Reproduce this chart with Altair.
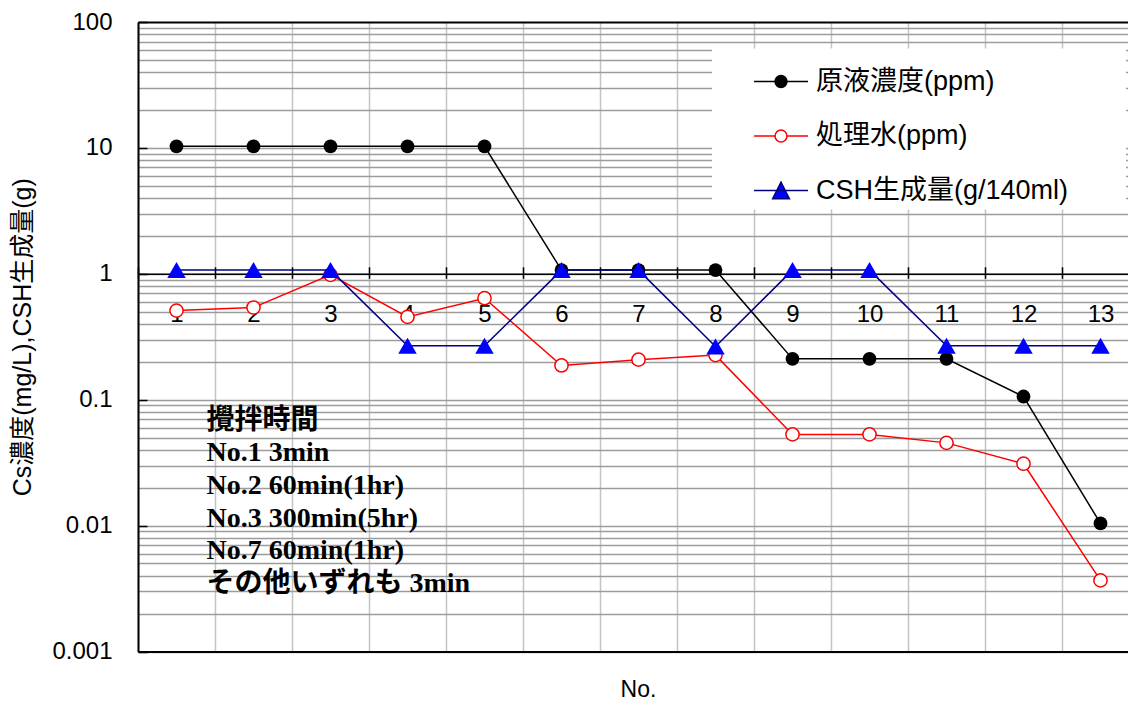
import altair as alt
import pandas as pd

# ---- data ----
nos = [str(i) for i in range(1, 14)]
series_names = ["原液濃度(ppm)", "処理水(ppm)", "CSH生成量(g/140ml)"]
raw_conc = [10.3, 10.3, 10.3, 10.3, 10.3, 1.07, 1.07, 1.07, 0.211, 0.211, 0.211, 0.106, 0.0104]
treated = [0.51, 0.54, 0.98, 0.455, 0.64, 0.187, 0.208, 0.226, 0.053, 0.053, 0.0454, 0.031, 0.00367]
csh = [1.07, 1.07, 1.07, 0.268, 0.268, 1.07, 1.07, 0.265, 1.07, 1.07, 0.268, 0.268, 0.268]
y_ticks = [m * 10.0 ** e for e in range(-3, 2) for m in range(1, 10)] + [100.0]
y_decades = [0.001, 0.01, 0.1, 1.0, 10.0, 100.0]
note_lines = ["攪拌時間", "No.1 3min", "No.2 60min(1hr)", "No.3 300min(5hr)",
              "No.7 60min(1hr)", "その他いずれも 3min"]

rows = []
for name, vals in zip(series_names, [raw_conc, treated, csh]):
    for n, v in zip(nos, vals):
        rows.append({"No": n, "value": v, "series": name})
df = pd.DataFrame(rows)

SANS = "Liberation Sans, Noto Sans CJK JP"
SERIF = "Liberation Serif, Noto Sans CJK JP"
W, H = 990, 629.5        # visible plot area (the category axis runs past the right edge)
X_RANGE = 1001

xscale = alt.Scale(type="band", domain=nos, paddingInner=0, paddingOuter=0, range=[0, X_RANGE])
yscale = alt.Scale(type="log", domain=[0.001, 100])

y_axis = alt.Axis(
    orient="left", values=y_ticks,
    labelExpr="abs(log(datum.value)/LN10 - round(log(datum.value)/LN10)) < 1e-6 ? format(datum.value, '') : ''",
    grid=True,
    gridColor={"condition": {"test": "datum.value >= 99", "value": "black"}, "value": "#9c9c9c"},
    gridWidth={"condition": {"test": "datum.value >= 99", "value": 2}, "value": 1.4},
    ticks=False, domain=True, domainColor="black", domainWidth=2,
    labelFont=SANS, labelFontSize=24, labelColor="black", labelPadding=26,
    title="Cs濃度(mg/L),CSH生成量(g)", titleFont=SANS, titleFontSize=25,
    titleFontWeight="normal", titleColor="black", titlePadding=16,
)
# inside tick marks at the decades (an axis on the right, moved onto the left edge)
y_tick_axis = alt.Axis(
    orient="right", offset=-W, values=y_decades, labels=False, domain=False, grid=False,
    ticks=True, tickSize=9, tickWidth=1.5, tickColor="black", title=None, zindex=1,
)

grid_axis = alt.Axis(
    orient="bottom", grid=True, gridColor="#c4c4c4", gridWidth=1.5, tickBand="extent",
    labels=False, ticks=False, domain=True, domainColor="black", domainWidth=2,
    title="No.", titleFont=SANS, titleFontSize=23, titleFontWeight="normal",
    titleColor="black", titlePadding=27, titleX=500,
)
cat_axis = alt.Axis(
    orient="bottom", offset=-(H * 3 / 5), grid=False, tickBand="extent",
    domain=True, domainColor="black", domainWidth=1.5,
    ticks=True, tickColor="black", tickSize=4.5, tickWidth=1.5,
    labelAngle=0, labelFont=SANS, labelFontSize=24, labelColor="black", labelPadding=24.5,
    title=None, zindex=0,
)
# upper half of the crossing tick marks on the category axis at y = 1
cat_tick_axis = alt.Axis(
    orient="top", offset=-(H * 2 / 5), grid=False, tickBand="extent", labels=False,
    domain=False, ticks=True, tickColor="black", tickSize=7, tickWidth=1.5, title=None, zindex=0,
)

base = alt.Chart(df)


def X(axis):
    return alt.X("No:N", sort=nos, scale=xscale, axis=axis)


def Y(axis):
    return alt.Y("value:Q", scale=yscale, axis=axis)


styles = {
    series_names[0]: dict(line="black", point=dict(shape="circle", filled=True, fill="black",
                                                 size=190, opacity=1)),
    series_names[1]: dict(line="red", point=dict(shape="circle", filled=True, fill="white",
                                               stroke="red", strokeWidth=1.5, size=175, opacity=1)),
    series_names[2]: dict(line="#000080", point=dict(shape="triangle-up", filled=True, fill="blue",
                                                   size=340, opacity=1)),
}

layers = []
first = True
for name in series_names:
    st = styles[name]
    sub = base.transform_filter(alt.datum.series == name)
    if first:
        layers.append(sub.mark_line(color=st["line"], strokeWidth=1.5).encode(
            x=X(grid_axis), y=Y(y_axis)))
        # invisible copies that only carry the extra axes
        layers.append(sub.mark_line(strokeOpacity=0).encode(x=X(cat_axis), y=Y(None)))
        layers.append(sub.mark_line(strokeOpacity=0).encode(x=X(cat_tick_axis), y=Y(y_tick_axis)))
        first = False
    else:
        layers.append(sub.mark_line(color=st["line"], strokeWidth=1.5).encode(x=X(None), y=Y(None)))
    layers.append(sub.mark_point(**st["point"]).encode(x=X(None), y=Y(None)))

# legend-only layer (invisible marks): symbol = short line with the series marker
leg_paths = [
    "M-1,0H1M-0.22,0A0.22,0.22,0,1,1,0.22,0A0.22,0.22,0,1,1,-0.22,0Z",
    "M-1,0H-0.22M0.22,0H1M-0.22,0A0.22,0.22,0,1,1,0.22,0A0.22,0.22,0,1,1,-0.22,0Z",
    "M-1,0H1M0,-0.31L0.31,0.31L-0.31,0.31Z",
]
legend = alt.Legend(
    title="\u00a0", titleOrient="right", titlePadding=52, titleFontSize=10,
    orient="none", legendX=574, legendY=26.5,
    fillColor="white", strokeColor="white", padding=5,
    symbolSize=2916, symbolStrokeWidth=1.5, symbolOpacity=1, symbolOffset=36,
    labelFont=SANS, labelFontSize=27, labelColor="black", labelOffset=7, labelLimit=600,
    rowPadding=13.5,
)
leg_layer = base.mark_point(opacity=0).encode(
    x=X(None), y=Y(None),
    shape=alt.Shape("series:N", scale=alt.Scale(domain=series_names, range=leg_paths), legend=legend),
    fill=alt.Fill("series:N", scale=alt.Scale(domain=series_names, range=["black", "white", "blue"]), legend=legend),
    stroke=alt.Stroke("series:N", scale=alt.Scale(domain=series_names, range=["black", "red", "#000080"]), legend=legend),
)
layers.append(leg_layer)

note = alt.Chart(pd.DataFrame({"No": ["1"], "value": [0.0588]})).mark_text(
    align="left", baseline="alphabetic", dx=30, font=SERIF, fontSize=28, fontWeight="bold",
    lineHeight=32.6, color="black",
).encode(x=X(None), y=Y(None), text=alt.value(note_lines))
layers.append(note)

chart = alt.layer(*layers).resolve_axis(x="independent", y="independent").properties(
    width=W, height=H,
    autosize=alt.AutoSizeParams(type="none"),
    padding={"left": 130, "top": 14, "right": 0, "bottom": 50},
).configure_view(stroke="transparent", strokeWidth=0)

chart.save("out.html", embed_options={"renderer": "svg", "actions": False})
